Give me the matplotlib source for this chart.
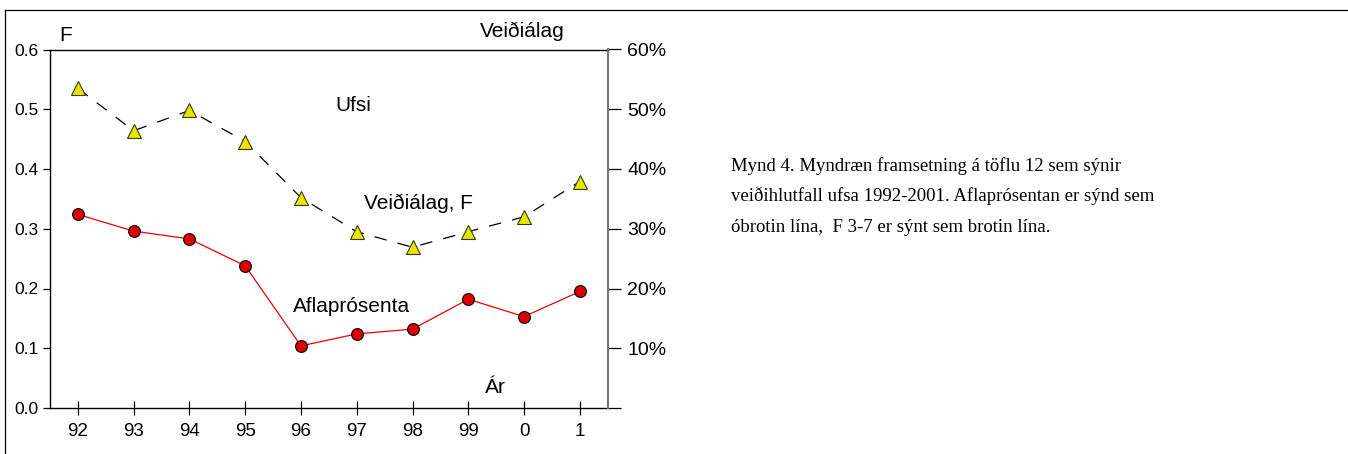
import matplotlib.pyplot as plt
from matplotlib.lines import Line2D

plt.rcParams.update({'font.family': 'Liberation Sans', 'font.size': 13.5})

# gögn
years = ['92', '93', '94', '95', '96', '97', '98', '99', '0', '1']
veidialag_f = [0.535, 0.464, 0.498, 0.446, 0.352, 0.295, 0.269, 0.295, 0.320, 0.379]
aflaprosenta = [32.4, 29.6, 28.3, 23.8, 10.4, 12.4, 13.2, 18.2, 15.3, 19.5]
left_ticks = [0.0, 0.1, 0.2, 0.3, 0.4, 0.5, 0.6]
right_ticks = [0, 10, 20, 30, 40, 50, 60]
right_labels = ['', '10%', '20%', '30%', '40%', '50%', '60%']
caption = ['Mynd 4. Myndræn framsetning á töflu 12 sem sýnir',
           'veiðihlutfall ufsa 1992-2001. Aflaprósentan er sýnd sem',
           'óbrotin lína,  F 3-7 er sýnt sem brotin lína.']

fig = plt.figure(figsize=(13.48, 4.54), dpi=100)
ax = fig.add_axes([50 / 1348, 46 / 454, 557.7 / 1348, 358.5 / 454])
ax2 = ax.twinx()

x = range(len(years))
ax.plot(x, veidialag_f, color='black', lw=0.9, dashes=(10, 9), marker='^',
        markersize=9.5, markerfacecolor='#e6e600', markeredgecolor='#3a3a00',
        markeredgewidth=0.8, zorder=3)
ax2.plot(x, aflaprosenta, color='#ee0000', lw=0.9, marker='o',
         markersize=8.5, markerfacecolor='#dd0000', markeredgecolor='black',
         markeredgewidth=0.8, zorder=3)

ax.set_xlim(-0.5, len(years) - 0.5)
ax.set_ylim(0, 0.6)
ax2.set_ylim(0, 60)
ax.set_xticks(list(x))
ax.set_xticklabels(years)
ax.set_yticks(left_ticks)
ax.set_yticklabels([f'{v:.1f}' for v in left_ticks])
ax2.set_yticks(right_ticks)
ax2.set_yticklabels(right_labels)

ax.tick_params(axis='x', direction='inout', length=10, width=0.9, pad=6)
ax.tick_params(axis='y', direction='out', length=5, width=0.9, pad=3,
               labelsize=12.5)
ax2.tick_params(axis='y', direction='out', length=9, width=0.9, pad=5,
                labelsize=14)

for s in ['left', 'bottom', 'top']:
    ax.spines[s].set_linewidth(1.0)
ax.spines['right'].set_visible(False)
for s in ['left', 'bottom', 'top']:
    ax2.spines[s].set_visible(False)
ax2.spines['right'].set_color('#707070')
ax2.spines['right'].set_linewidth(1.4)

ax.text(4.61, 0.497, 'Ufsi', fontsize=15)
ax.text(5.13, 0.3325, 'Veiðiálag, F', fontsize=15)
ax.text(3.86, 0.1607, 'Aflaprósenta', fontsize=15)
ax.text(7.29, 0.0246, 'Ár', fontsize=15)

fig.text(59 / 1348, 1 - 40.7 / 454, 'F', fontsize=15)
fig.text(480 / 1348, 1 - 36.7 / 454, 'Veiðiálag', fontsize=15)

for i, line in enumerate(caption):
    fig.text(731 / 1348, 1 - (171 + 30.5 * i) / 454, line,
             family='Liberation Serif', fontsize=13.5)

# rammi
fig.add_artist(Line2D([5 / 1348, 1], [1 - 10 / 454, 1 - 10 / 454],
                      transform=fig.transFigure, color='black', lw=0.9))
fig.add_artist(Line2D([5 / 1348, 5 / 1348], [0, 1 - 10 / 454],
                      transform=fig.transFigure, color='black', lw=0.9))

fig.savefig('out.png', dpi=100)
